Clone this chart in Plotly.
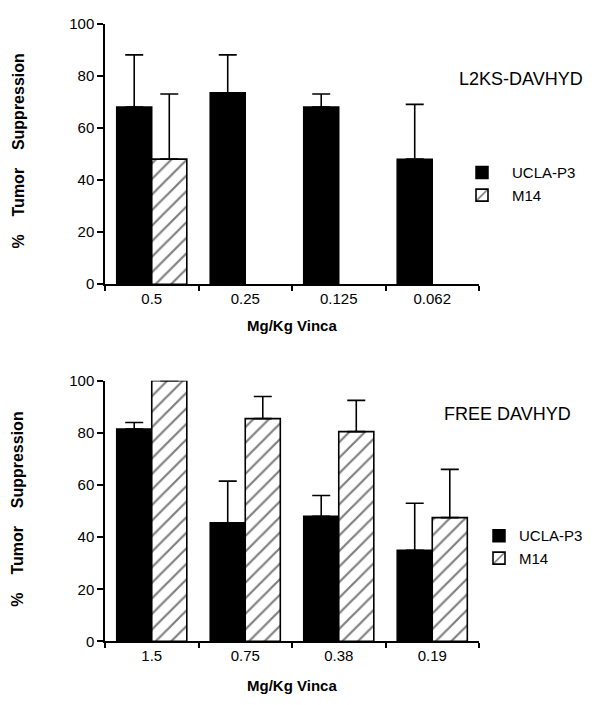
import plotly.graph_objects as go

# ---- data ----
top_cats = ["0.5", "0.25", "0.125", "0.062"]
top_ucla = [68, 73.5, 68, 48]
top_ucla_upper = [88, 88, 73, 69]
top_m14 = [48, None, None, None]
top_m14_upper = [73, None, None, None]

bot_cats = ["1.5", "0.75", "0.38", "0.19"]
bot_ucla = [81.5, 45.5, 48, 35]
bot_ucla_upper = [84, 61.5, 56, 53]
bot_m14 = [100, 85.5, 80.5, 47.5]
bot_m14_upper = [100, 94, 92.5, 66]

series_names = ["UCLA-P3", "M14"]
panel_titles = ["L2KS-DAVHYD", "FREE DAVHYD"]
x_title = "Mg/Kg Vinca"
gap = "\u00a0" * 4
y_title = "%" + gap + "Tumor" + gap + "Suppression"

FONT = "Liberation Sans, Arial, Helvetica, sans-serif"
W, H = 596, 705


def err(vals, upper):
    return [None if v is None else u - v for v, u in zip(vals, upper)]


def px(x):
    return x / W


def py(y):
    return 1 - y / H


fig = go.Figure()

panels = [
    (top_cats, top_ucla, top_ucla_upper, top_m14, top_m14_upper, "x", "y", "legend"),
    (bot_cats, bot_ucla, bot_ucla_upper, bot_m14, bot_m14_upper, "x2", "y2", "legend2"),
]

for cats, uc, ucu, m, mu, xa, ya, lg in panels:
    fig.add_trace(go.Bar(
        x=cats, y=uc, name=series_names[0], xaxis=xa, yaxis=ya, legend=lg,
        marker=dict(color="black", line=dict(color="black", width=1.5)),
        error_y=dict(type="data", symmetric=False, array=err(uc, ucu),
                     arrayminus=[0] * len(uc), color="black", thickness=1.6, width=9),
    ))
    fig.add_trace(go.Bar(
        x=cats, y=m, name=series_names[1], xaxis=xa, yaxis=ya, legend=lg,
        marker=dict(color="white", line=dict(color="black", width=1.6),
                    pattern=dict(shape="/", fgcolor="black", bgcolor="white",
                                 size=11, solidity=0.2)),
        error_y=dict(type="data", symmetric=False, array=err(m, mu),
                     arrayminus=[0] * len(m), color="black", thickness=1.6, width=9),
    ))

xdom = [px(105), px(479)]
axis_common = dict(showline=True, linecolor="black", linewidth=1.5,
                   ticks="outside", tickcolor="black", tickwidth=1.5,
                   showgrid=False, zeroline=False,
                   tickfont=dict(family=FONT, size=15, color="black"))

fig.update_layout(
    width=W, height=H,
    margin=dict(l=0, r=0, t=0, b=0),
    paper_bgcolor="white", plot_bgcolor="white",
    barmode="group", bargap=0.25, bargroupgap=0,
    font=dict(family=FONT, color="black"),
    xaxis=dict(domain=xdom, anchor="y", type="category", tickson="boundaries",
               ticklen=5, **axis_common),
    yaxis=dict(domain=[py(282), py(15)], anchor="x", range=[0, 100],
               tickvals=[0, 20, 40, 60, 80, 100], ticklen=6, **axis_common),
    xaxis2=dict(domain=xdom, anchor="y2", type="category", tickson="boundaries",
                ticklen=5, **axis_common),
    yaxis2=dict(domain=[py(648), py(381)], anchor="x2", range=[0, 100],
                tickvals=[0, 20, 40, 60, 80, 100], ticklen=6, **axis_common),
    legend=dict(x=px(452), y=py(151), xanchor="left", yanchor="top",
                font=dict(family=FONT, size=15, color="black"),
                bgcolor="rgba(0,0,0,0)", tracegroupgap=0, itemwidth=50),
    legend2=dict(x=px(479), y=py(523), xanchor="left", yanchor="top",
                 font=dict(family=FONT, size=15, color="black"),
                 bgcolor="rgba(0,0,0,0)", tracegroupgap=0, itemwidth=30),
)

annotations = [
    dict(text=panel_titles[0], x=px(457), y=py(72), xanchor="left", yanchor="middle",
         font=dict(size=18)),
    dict(text=panel_titles[1], x=px(442), y=py(415), xanchor="left", yanchor="middle",
         font=dict(size=18)),
    dict(text="<b>" + x_title + "</b>", x=px(292), y=py(324), xanchor="center",
         yanchor="middle", font=dict(size=15)),
    dict(text="<b>" + x_title + "</b>", x=px(292), y=py(693), xanchor="center",
         yanchor="middle", font=dict(size=15)),
    dict(text="<b>" + y_title + "</b>", x=px(18), y=py(146), textangle=-90,
         xanchor="center", yanchor="middle", font=dict(size=16)),
    dict(text="<b>" + y_title + "</b>", x=px(18), y=py(513), textangle=-90,
         xanchor="center", yanchor="middle", font=dict(size=16)),
]
for a in annotations:
    a.update(xref="paper", yref="paper", showarrow=False)
    a["font"].update(family=FONT, color="black")
fig.update_layout(annotations=annotations)

fig.write_html(
    "out.html",
    config={"displayModeBar": False},
    post_script="document.body.style.margin='0';document.body.style.overflow='hidden';",
)
